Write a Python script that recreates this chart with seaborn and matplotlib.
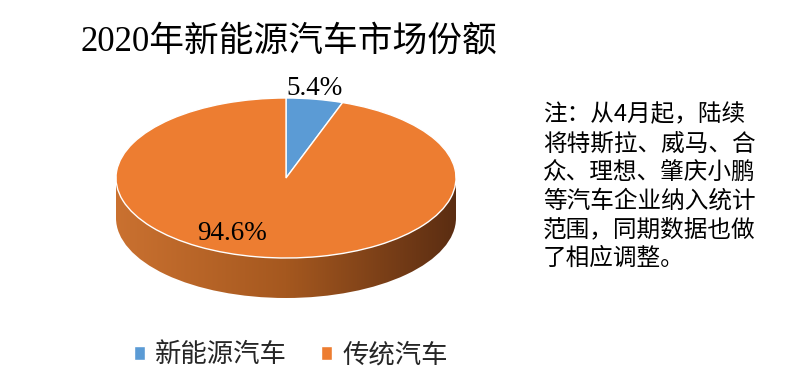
import numpy as np
import seaborn as sns
import matplotlib.pyplot as plt
from matplotlib.patches import Ellipse, Rectangle
from matplotlib.colors import LinearSegmentedColormap

# dados do gráfico
categorias = ['新能源汽车', '传统汽车']
valores = [5.4, 94.6]
rotulos = ['5.4%', '94.6%']
titulo = '2020年新能源汽车市场份额'
nota = ['注：从4月起，陆续',
        '将特斯拉、威马、合',
        '众、理想、肇庆小鹏',
        '等汽车企业纳入统计',
        '范围，同期数据也做',
        '了相应调整。']

sns.set_theme(style='white')
plt.rcParams['font.family'] = ['Noto Sans CJK SC', 'DejaVu Sans']

cores = ['#5B9BD5', '#ED7D31']
lateral = LinearSegmentedColormap.from_list('lateral', ['#CA7130', '#A5581F', '#5B2D12'])

fig = plt.figure(figsize=(7.94, 3.78), dpi=100)
fig.patch.set_facecolor('white')

# eixo da pizza: 170 px por unidade em x, 80 px por unidade em y
ax = fig.add_axes([82 / 794, 72 / 378, 408 / 794, 224 / 378])
profundidade = 0.5

# lateral (efeito 3D) com degradê horizontal
gradiente = np.linspace(0, 1, 256).reshape(1, -1)
for clip in [Ellipse((0, -profundidade), 2, 2), Rectangle((-1, -profundidade), 2, profundidade)]:
    img = ax.imshow(gradiente, cmap=lateral, extent=(-1, 1, -1 - profundidade, 1),
                    aspect='auto', zorder=0)
    clip.set_transform(ax.transData)
    img.set_clip_path(clip)

# topo da pizza
fatias, _ = ax.pie(valores, colors=cores, startangle=90, counterclock=False,
                   wedgeprops=dict(edgecolor='white', linewidth=1))
for f in fatias:
    f.set_zorder(2)

ax.set_aspect('auto')
ax.set_xlim(-1.2, 1.2)
ax.set_ylim(-1.6, 1.2)
ax.axis('off')

# rótulos de porcentagem
pos_rotulos = [(0.17, 1.12), (-0.32, -0.69)]
for (x, y), r in zip(pos_rotulos, rotulos):
    ax.text(x, y, r, ha='center', va='center', fontsize=19.5, zorder=3,
            family=['Liberation Serif', 'Noto Sans CJK SC'], color='black')

# título
fig.text(80 / 794, 1 - 42 / 378, titulo, ha='left', va='center', fontsize=25,
         family=['Liberation Serif', 'Noto Sans CJK SC'], color='black')

# nota ao lado
for i, linha in enumerate(nota):
    fig.text(543 / 794, 1 - (115 + i * 28.7) / 378, linha, ha='left', va='center',
             fontsize=17, color='black')

# legenda
fig.legend(fatias, categorias, loc='center', bbox_to_anchor=(291 / 794, 23 / 378),
           ncol=2, frameon=False, fontsize=19, handlelength=0.4, handleheight=0.4,
           handletextpad=0.4, columnspacing=1.3)

fig.savefig('out.png', dpi=100)
